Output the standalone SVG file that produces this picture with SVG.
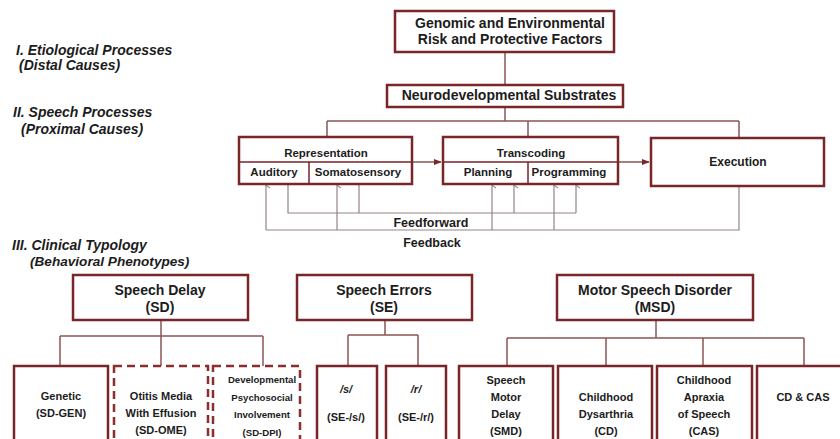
<svg xmlns="http://www.w3.org/2000/svg" width="840" height="439" viewBox="0 0 840 439">
<defs>
<style>
text{font-family:"Liberation Sans",Arial,sans-serif;font-weight:bold;fill:#1c1c1c}
.c{text-anchor:middle}
.lbl{font-size:14px;font-style:italic}
.box{fill:#fff;stroke:#7a2528;stroke-width:2.5}
.dash{fill:#fff;stroke:#8a2e30;stroke-width:2.5;stroke-dasharray:8 5}
.div{stroke:#7a2528;stroke-width:1.5;fill:none}
.tree{stroke:#8a5556;stroke-width:1.5;fill:none}
.fb{stroke:#948485;stroke-width:1.2;fill:none}
.t14{font-size:14px}
.t12{font-size:12px}
.t11{font-size:11px}
.t10{font-size:9.6px}
</style>
<marker id="chev" viewBox="0 0 10 10" refX="5" refY="1" markerWidth="8" markerHeight="8" orient="auto-start-reverse" markerUnits="userSpaceOnUse">
<path d="M1,6 L5,1 L9,6" fill="none" stroke="#948485" stroke-width="1.3"/>
</marker>
<marker id="tri" viewBox="0 0 10 10" refX="9" refY="5" markerWidth="8" markerHeight="8" orient="auto" markerUnits="userSpaceOnUse">
<path d="M0,1 L10,5 L0,9 Z" fill="#7a2528"/>
</marker>
</defs>
<rect width="840" height="439" fill="#fff"/>

<g id="labels">
<text class="lbl" x="16" y="55">I. Etiological Processes</text>
<text class="lbl" x="19" y="70">(Distal Causes)</text>
<text class="lbl" x="13" y="117">II. Speech Processes</text>
<text class="lbl" x="21" y="134">(Proximal Causes)</text>
<text class="lbl" x="12" y="249.5">III. Clinical Typology</text>
<text class="lbl" x="30" y="266" style="font-size:13.6px">(Behavioral Phenotypes)</text>
</g>

<g id="connectors">
<path class="tree" d="M505,52 V85 M505,107 V121 M327,121 H739 M327,121 V137 M528,121 V137 M739,121 V138"/>
<path class="tree" d="M412,162 H441" marker-end="url(#tri)"/>
<path class="tree" d="M618,162 H649" marker-end="url(#tri)"/>
<path class="fb" d="M739,186 V230 H266"/>
<path class="fb" d="M288,184 V213 H576 M359,184 V213"/>
<path class="fb" d="M266,230 V185" marker-end="url(#chev)"/>
<path class="fb" d="M337,230 V185" marker-end="url(#chev)"/>
<path class="fb" d="M492,230 V185" marker-end="url(#chev)"/>
<path class="fb" d="M554,230 V185" marker-end="url(#chev)"/>
<path class="fb" d="M514,213 V185" marker-end="url(#chev)"/>
<path class="fb" d="M576,213 V185" marker-end="url(#chev)"/>
<path class="tree" d="M161,320 V336 M60,336 H263 M60,336 V366 M161,336 V366 M263,336 V366"/>
<path class="tree" d="M385,320 V335 M348,335 H418 M348,335 V366 M418,335 V366"/>
<path class="tree" d="M656,320 V338 M507,338 H804 M507,338 V366 M606,338 V366 M703,338 V366 M804,338 V366"/>
<text class="c t12" x="431" y="227" style="font-size:12.5px">Feedforward</text>
<text class="c t12" x="432" y="247" style="font-size:12.5px">Feedback</text>
</g>

<g id="genomic">
<rect class="box" x="395" y="11" width="219" height="41"/>
<text class="c t14" x="510" y="28">Genomic and Environmental</text>
<text class="c t14" x="510" y="44">Risk and Protective Factors</text>
</g>

<g id="neuro">
<rect class="box" x="387" y="85" width="236" height="22"/>
<text class="c t14" x="509" y="100">Neurodevelopmental Substrates</text>
</g>

<g id="representation">
<rect class="box" x="239" y="137" width="173" height="47"/>
<path class="div" d="M239,162 H412 M309,162 V184"/>
<text class="c" x="326" y="157" style="font-size:11.5px">Representation</text>
<text class="c" x="274" y="176" style="font-size:11.5px">Auditory</text>
<text class="c" x="358" y="176" style="font-size:11.5px">Somatosensory</text>
</g>

<g id="transcoding">
<rect class="box" x="443" y="137" width="175" height="47"/>
<path class="div" d="M443,162 H618 M528,162 V184"/>
<text class="c" x="531" y="157" style="font-size:11.5px">Transcoding</text>
<text class="c" x="488" y="176" style="font-size:11.5px">Planning</text>
<text class="c" x="569" y="176" style="font-size:11.5px">Programming</text>
</g>

<g id="execution">
<rect class="box" x="651" y="138" width="173" height="48"/>
<text class="c t12" x="738" y="166">Execution</text>
</g>

<g id="sd">
<rect class="box" x="73" y="275" width="175" height="45"/>
<text class="c t14" x="160" y="295">Speech Delay</text>
<text class="c t14" x="160" y="312">(SD)</text>
</g>

<g id="se">
<rect class="box" x="297" y="275" width="175" height="45"/>
<text class="c t14" x="384" y="295">Speech Errors</text>
<text class="c t14" x="384" y="312">(SE)</text>
</g>

<g id="msd">
<rect class="box" x="557" y="275" width="196" height="45"/>
<text class="c t14" x="655" y="295">Motor Speech Disorder</text>
<text class="c t14" x="655" y="312">(MSD)</text>
</g>

<g id="sd-gen">
<rect class="box" x="14" y="366" width="94" height="85"/>
<text class="c t11" x="61" y="400">Genetic</text>
<text class="c t11" x="61" y="417">(SD-GEN)</text>
</g>

<g id="sd-ome">
<rect class="dash" x="114" y="366" width="94" height="85"/>
<text class="c t11" x="161" y="400">Otitis Media</text>
<text class="c t11" x="161" y="417">With Effusion</text>
<text class="c t11" x="161" y="434">(SD-OME)</text>
</g>

<g id="sd-dpi">
<rect class="dash" x="213" y="366" width="87" height="85"/>
<text class="c t10" x="262" y="383">Developmental</text>
<text class="c t10" x="262" y="400.5">Psychosocial</text>
<text class="c t10" x="262" y="418">Involvement</text>
<text class="c t10" x="262" y="435.5">(SD-DPI)</text>
</g>

<g id="se-s">
<rect class="box" x="317" y="366" width="60" height="85"/>
<text class="c t11" x="346" y="393" style="font-style:italic">/s/</text>
<text class="c t11" x="346" y="421">(SE-/s/)</text>
</g>

<g id="se-r">
<rect class="box" x="386" y="366" width="60" height="85"/>
<text class="c t11" x="416" y="393" style="font-style:italic">/r/</text>
<text class="c t11" x="416" y="421">(SE-/r/)</text>
</g>

<g id="smd">
<rect class="box" x="459" y="366" width="94" height="85"/>
<text class="c t11" x="506" y="384">Speech</text>
<text class="c t11" x="506" y="401">Motor</text>
<text class="c t11" x="506" y="418">Delay</text>
<text class="c t11" x="506" y="435">(SMD)</text>
</g>

<g id="cd">
<rect class="box" x="558" y="366" width="94" height="85"/>
<text class="c t11" x="606" y="401">Childhood</text>
<text class="c t11" x="606" y="418">Dysarthria</text>
<text class="c t11" x="606" y="435">(CD)</text>
</g>

<g id="cas">
<rect class="box" x="657" y="366" width="95" height="85"/>
<text class="c t11" x="704" y="384">Childhood</text>
<text class="c t11" x="704" y="401">Apraxia</text>
<text class="c t11" x="704" y="418">of Speech</text>
<text class="c t11" x="704" y="435">(CAS)</text>
</g>

<g id="cd-cas">
<rect class="box" x="757" y="366" width="95" height="85"/>
<text class="c t11" x="803" y="401">CD &amp; CAS</text>
</g>
</svg>
